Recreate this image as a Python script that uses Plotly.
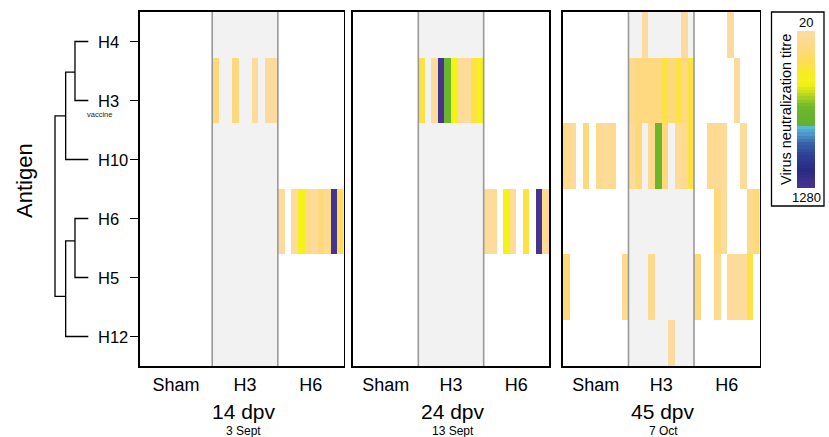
import numpy as np
import plotly.graph_objects as go

# ---------------- data ----------------
antigens = ["H4", "H3", "H10", "H6", "H5", "H12"]
groups = ["Sham", "H3", "H6"]
panel_titles = ["14 dpv", "24 dpv", "45 dpv"]
panel_dates = ["3 Sept", "13 Sept", "7 Oct"]
group_sizes = [[11, 10, 10], [10, 10, 10], [10, 10, 10]]
cbar_labels = ["20", "1280"]
titre_min, titre_max = 20, 1280

_ = None
# virus neutralization titres, one row per antigen, columns = animals (Sham | H3 | H6)
titre_14dpv = [
    [_] * 31,
    [_] * 11 + [32, _, _, 32, _, _, 22, _, 20, 20] + [_] * 10,
    [_] * 31,
    [_] * 21 + [20, _, 22, 80, 26, 22, 32, 26, 1280, 40],
    [_] * 31,
    [_] * 31,
]
titre_24dpv = [
    [_] * 30,
    [_] * 10 + [50, _, 21, 1280, 160, 80, 22, 22, 50, 80] + [_] * 10,
    [_] * 30,
    [_] * 20 + [21, 21, _, 80, 22, _, 50, _, 1280, 26],
    [_] * 30,
    [_] * 30,
]
titre_45dpv = [
    [_] * 10 + [_, _, 20, _, _, _, _, _, 20, _] + [_, _, _, _, _, 20, _, _, _, _],
    [_] * 10 + [26, 30, 30, 30, 30, 50, 32, 50, 30, 50] + [_, _, _, _, _, _, 20, _, _, _],
    [26, 22, _, 32, _, 26, 22, 26, _, _] + [22, 32, _, 26, 160, 32, _, 22, 26, 50] + [_, _, 24, 24, 21, _, _, 22, _, _],
    [_] * 20 + [_, _, _, 32, 21, _, _, _, 26, 34],
    [32, _, _, _, _, _, _, _, _, 26] + [_, _, _, 26, _, _, _, _, _, _] + [30, _, _, 26, _, 21, 21, 21, 50, _],
    [_] * 10 + [_, _, _, _, _, _, 20, _, _, _] + [_] * 10,
]
panels_data = [titre_14dpv, titre_24dpv, titre_45dpv]

# dendrogram: node -> (left child, right child, merge height, drawn row position)
dendro_nodes = {
    "A": ("H4", "H3", 0.40, 1.52),
    "B": ("H6", "H5", 0.40, 4.38),
    "C": ("A", "H10", 0.68, 2.26),
    "D": ("B", "H12", 0.68, 5.32),
    "R": ("C", "D", 1.00, 3.79),
}

# ---------------- styling / layout helpers ----------------
W, H = 829, 437
FONT = "Liberation Sans, Arial, Helvetica, sans-serif"


def X(px):
    return px / W


def Y(py):
    return 1 - py / H


colorscale = [
    [0.000, "#FDDB9E"],
    [0.060, "#FDDA8E"],
    [0.120, "#FED978"],
    [0.200, "#FEDE50"],
    [0.270, "#F8EC24"],
    [0.333, "#F4F217"],
    [0.380, "#D2E01C"],
    [0.430, "#A2CC24"],
    [0.470, "#76BC2A"],
    [0.500, "#6BB62B"],
    [0.600, "#62B12E"],
    [0.605, "#5FC3D6"],
    [0.660, "#4D97C8"],
    [0.720, "#3A63AB"],
    [0.800, "#2E3E93"],
    [0.900, "#292A82"],
    [1.000, "#46338F"],
]
zmax = np.log2(titre_max / titre_min)

panel_px = [(140, 343.5), (353, 549), (563, 759.5)]
top_px, bot_px = 12, 366
ydom = [Y(bot_px), Y(top_px)]
n_rows = len(antigens)
yrange = [n_rows + 0.5, 0.5]
# heatmap rows are stretched by 10/9 around the centre, as in the reference image
row_scale = 10 / 9
row_edges = (n_rows + 1) / 2 + (np.arange(n_rows + 1) - n_rows / 2) * row_scale

fig = go.Figure()
shapes = []
annotations = []
layout_axes = {}


def note(text, x, y, size, xref="paper", yref="paper", xanchor="center", **kw):
    d = dict(text=text, x=x, y=y, xref=xref, yref=yref, showarrow=False,
             xanchor=xanchor, yanchor="middle",
             font=dict(size=size, family=FONT, color=kw.pop("color", "black")))
    d.update(kw)
    annotations.append(d)


for i, (data, sizes) in enumerate(zip(panels_data, group_sizes)):
    k = "" if i == 0 else str(i + 1)
    ncols = sum(sizes)
    z = np.array([[np.nan if v is None else np.log2(v / titre_min) for v in row] for row in data], dtype=float)
    fig.add_trace(go.Heatmap(
        z=z, x=np.arange(ncols + 1), y=row_edges,
        colorscale=colorscale, zmin=0, zmax=zmax, showscale=False,
        hoverinfo="skip", xaxis="x" + k, yaxis="y" + k,
    ))
    bounds = np.concatenate([[0], np.cumsum(sizes)])
    centers = (bounds[:-1] + bounds[1:]) / 2
    layout_axes["xaxis" + k] = dict(
        domain=[X(panel_px[i][0]), X(panel_px[i][1])], range=[0, ncols],
        anchor="y" + k, tickvals=list(centers), ticktext=groups,
        ticks="outside", ticklen=2, tickcolor="rgba(0,0,0,0)",
        tickfont=dict(size=18, color="black", family=FONT),
        showline=True, mirror=True, linecolor="black", linewidth=1.6,
        showgrid=False, zeroline=False, fixedrange=True,
    )
    layout_axes["yaxis" + k] = dict(
        domain=ydom, range=yrange, anchor="x" + k,
        tickvals=list(range(1, n_rows + 1)), showticklabels=False,
        ticks="outside" if i == 0 else "", ticklen=8, tickwidth=1.3, tickcolor="black",
        showline=True, mirror=True, linecolor="black", linewidth=1.6,
        showgrid=False, zeroline=False, fixedrange=True,
    )
    # grey background for the H3 group and divider lines
    shapes.append(dict(type="rect", xref="x" + k, yref="y" + k + " domain",
                       x0=bounds[1], x1=bounds[2], y0=0, y1=1,
                       fillcolor="#F2F2F2", line=dict(width=0), layer="below"))
    for b in bounds[1:-1]:
        shapes.append(dict(type="line", xref="x" + k, yref="y" + k + " domain",
                           x0=b, x1=b, y0=0, y1=1,
                           line=dict(color="#999999", width=1.6), layer="above"))
    cx = X((panel_px[i][0] + panel_px[i][1]) / 2 + 2)
    note(panel_titles[i], cx, Y(411), 21)
    note(panel_dates[i], cx, Y(431), 12)

# antigen labels (left-aligned), vaccine note, axis title
for j, name in enumerate(antigens):
    note(name, X(96), j + 1, 16.5, yref="y", xanchor="left")
note("vaccine", X(99), antigens.index("H3") + 1, 7.5, yref="y", yshift=-14, color="#222222")
note("Antigen", X(24), Y(181), 22, textangle=-90)

# dendrogram
leaf_pos = {name: j + 1 for j, name in enumerate(antigens)}


def node_pos(n):
    if n in leaf_pos:
        return 0.0, leaf_pos[n]
    return dendro_nodes[n][2], dendro_nodes[n][3]


dx, dy = [], []
for n, (l, r, h, yp) in dendro_nodes.items():
    hl, yl = node_pos(l)
    hr, yr = node_pos(r)
    dx += [hl, h, h, hr, None]
    dy += [yl, yl, yr, yr, None]
fig.add_trace(go.Scatter(x=dx, y=dy, mode="lines", line=dict(color="black", width=1.3),
                         hoverinfo="skip", showlegend=False, xaxis="x5", yaxis="y5",
                         cliponaxis=False))
leaf_px, root_px = 88.3, 55.0
ppu = leaf_px - root_px
d_left, d_right = 48, 94
layout_axes["xaxis5"] = dict(domain=[X(d_left), X(d_right)],
                             range=[(leaf_px - d_left) / ppu, (leaf_px - d_right) / ppu],
                             visible=False, anchor="y5", fixedrange=True)
layout_axes["yaxis5"] = dict(domain=ydom, range=yrange, visible=False, anchor="x5", fixedrange=True)

# colour key drawn as its own small heatmap (20 at top, 1280 at bottom)
nb = 48
key_vals = np.linspace(0, zmax, nb)
fig.add_trace(go.Heatmap(z=key_vals.reshape(-1, 1), x=[0, 1], y=np.arange(nb + 1),
                         colorscale=colorscale, zmin=0, zmax=zmax, showscale=False,
                         hoverinfo="skip", xaxis="x4", yaxis="y4"))
layout_axes["xaxis4"] = dict(domain=[X(797), X(815)], range=[0, 1], visible=False,
                             anchor="y4", fixedrange=True)
layout_axes["yaxis4"] = dict(domain=[Y(188), Y(31)], range=[nb, 0], visible=False,
                             anchor="x4", fixedrange=True)
shapes.append(dict(type="rect", xref="paper", yref="paper", x0=X(771.5), x1=X(824),
                   y0=Y(206), y1=Y(12), line=dict(color="black", width=1.3),
                   fillcolor="rgba(0,0,0,0)"))
note(cbar_labels[0], X(806), Y(22.5), 13)
note(cbar_labels[1], X(806), Y(197), 13)
note("Virus neutralization titre", X(786), Y(110), 14.5, textangle=-90)

fig.update_layout(
    width=W, height=H, margin=dict(l=0, r=0, t=0, b=0),
    paper_bgcolor="white", plot_bgcolor="white",
    showlegend=False, shapes=shapes, annotations=annotations,
    font=dict(family=FONT, color="black"),
    **layout_axes,
)
fig.write_html("out.html", config={"displayModeBar": False, "staticPlot": True},
               post_script="document.body.style.margin='0';document.body.style.overflow='hidden';")
